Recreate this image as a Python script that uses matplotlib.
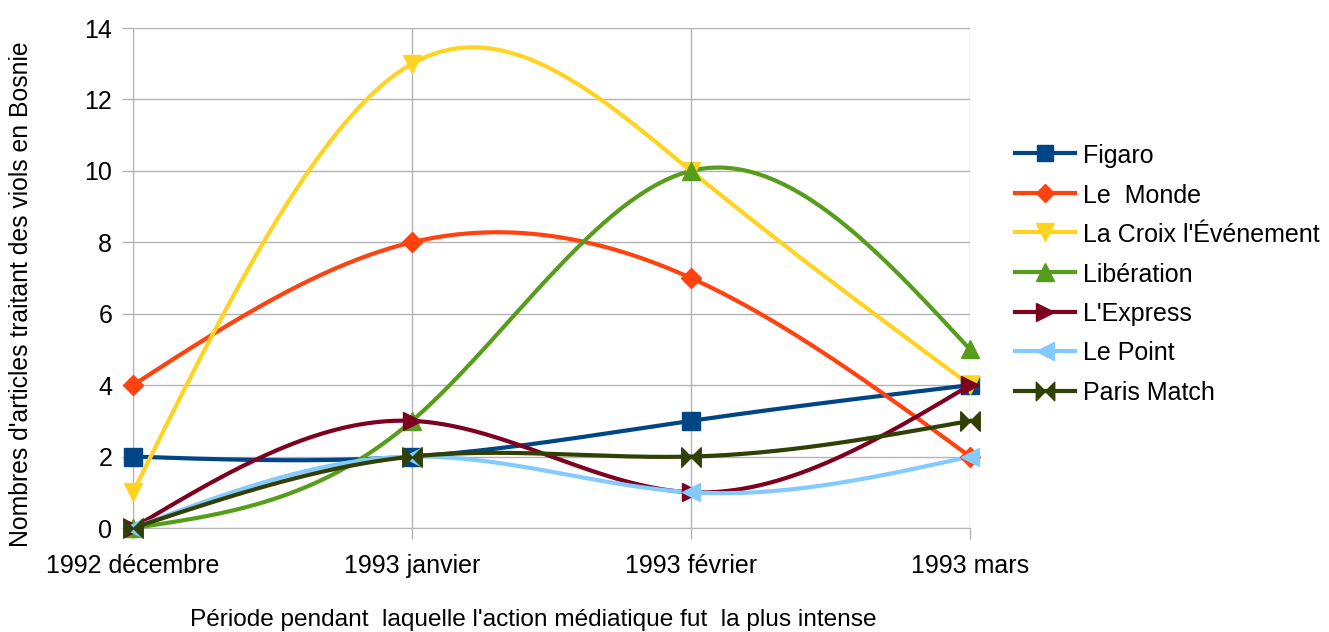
import numpy as np
import matplotlib
matplotlib.use("Agg")
import matplotlib.pyplot as plt
from matplotlib.path import Path
from matplotlib.lines import Line2D

categories = ["1992 décembre", "1993 janvier", "1993 février", "1993 mars"]
series_names = ["Figaro", "Le  Monde", "La Croix l'Événement", "Libération",
                "L'Express", "Le Point", "Paris Match"]
figaro = [2, 2, 3, 4]
le_monde = [4, 8, 7, 2]
la_croix = [1, 13, 10, 4]
liberation = [0, 3, 10, 5]
l_express = [0, 3, 1, 4]
le_point = [0, 2, 1, 2]
paris_match = [0, 2, 2, 3]
all_values = [figaro, le_monde, la_croix, liberation, l_express, le_point, paris_match]

colors = ["#004586", "#ff420e", "#ffd320", "#579d1c", "#7e0021", "#83caff", "#314004"]

bowtie = Path([(-1, -1), (-1, 1), (0, 0), (1, 1), (1, -1), (0, 0), (-1, -1)],
              [Path.MOVETO, Path.LINETO, Path.LINETO, Path.LINETO, Path.LINETO,
               Path.LINETO, Path.CLOSEPOLY])
markers = ["s", "D", "v", "^", ">", "<", bowtie]
msizes = [12.5, 10, 13, 13, 13, 13, 14]


def natural_spline(x, y, n=200):
    x = np.asarray(x, float); y = np.asarray(y, float)
    m = len(x)
    h = np.diff(x)
    A = np.zeros((m, m)); b = np.zeros(m)
    A[0, 0] = 1; A[-1, -1] = 1
    for i in range(1, m - 1):
        A[i, i - 1] = h[i - 1]
        A[i, i] = 2 * (h[i - 1] + h[i])
        A[i, i + 1] = h[i]
        b[i] = 6 * ((y[i + 1] - y[i]) / h[i] - (y[i] - y[i - 1]) / h[i - 1])
    M = np.linalg.solve(A, b)
    xs = np.linspace(x[0], x[-1], n)
    ys = np.empty_like(xs)
    for k, xv in enumerate(xs):
        i = min(np.searchsorted(x, xv, side="right") - 1, m - 2)
        t = (xv - x[i]) / h[i]
        ys[k] = ((1 - t) * y[i] + t * y[i + 1]
                 + ((1 - t) ** 3 - (1 - t)) * M[i] * h[i] ** 2 / 6
                 + (t ** 3 - t) * M[i + 1] * h[i] ** 2 / 6)
    return xs, ys


plt.rcParams['font.family'] = ['Liberation Sans', 'DejaVu Sans']
W, H = 1329, 632
fig = plt.figure(figsize=(W / 100, H / 100), dpi=100)
ax = fig.add_axes([133 / W, 1 - 528 / H, (970 - 133) / W, (528 - 28) / H])

x = np.arange(len(categories))
LW = 3.0
for vals, name, c, mk, ms in zip(all_values, series_names, colors, markers, msizes):
    xs, ys = natural_spline(x, vals)
    ax.plot(xs, ys, color=c, lw=LW, zorder=3, clip_on=False)
    ax.plot(x, vals, linestyle="none", marker=mk, markersize=ms, color=c, zorder=4, clip_on=False)

ax.set_xlim(0, 3)
ax.set_ylim(0, 14)
ax.set_xticks(x)
ax.set_xticklabels(categories)
ax.set_yticks(range(0, 15, 2))
ax.grid(True, color="#b3b3b3", lw=1)
ax.set_axisbelow(True)
for s in ["top", "right"]:
    ax.spines[s].set_visible(False)
for s in ["left", "bottom"]:
    ax.spines[s].set_color("#b3b3b3")
ax.tick_params(axis="both", labelsize=18, length=8, width=1, color="#b3b3b3",
               labelcolor="black")
ax.tick_params(axis="y", pad=7)
ax.tick_params(axis="x", pad=11)

fig.text(533 / W, 1 - 626 / H,
         "Période pendant  laquelle l'action médiatique fut  la plus intense",
         fontsize=17.6, ha="center", va="baseline")
fig.text(21 / W, 1 - 294 / H, "Nombres d'articles traitant des viols en Bosnie",
         fontsize=17.8, rotation=90, ha="center", va="center")

# legend drawn manually in figure pixel coordinates
leg_y = [153, 193, 232, 272, 312, 351, 391]
for yy, name, c, mk, ms in zip(leg_y, series_names, colors, markers, msizes):
    fy = 1 - yy / H
    fig.add_artist(Line2D([1015 / W, 1075 / W], [fy, fy], color=c, lw=LW,
                          transform=fig.transFigure))
    fig.add_artist(Line2D([1045 / W], [fy], color=c, marker=mk, markersize=ms * 0.95,
                          linestyle="none", transform=fig.transFigure))
    fig.text(1083 / W, fy, name, fontsize=18, ha="left", va="center_baseline")

fig.savefig("out.png", dpi=100)
